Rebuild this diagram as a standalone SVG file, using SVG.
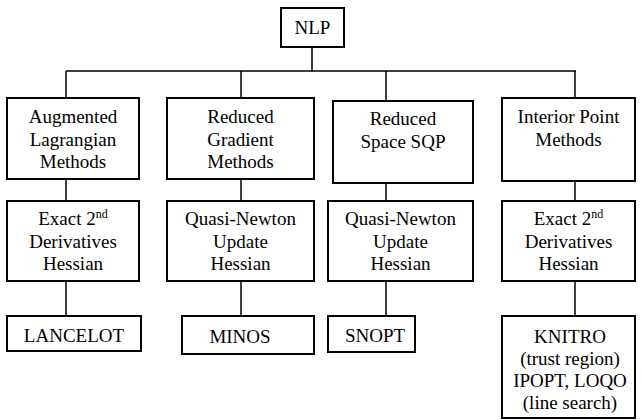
<svg xmlns="http://www.w3.org/2000/svg" width="642" height="420" viewBox="0 0 642 420">
<style>
.box{fill:#fff;stroke:#000;stroke-width:2}
.ln{stroke:#000;stroke-width:1.5;fill:none}
text{font-family:"Liberation Serif","Tinos","Times New Roman","DejaVu Serif",serif;font-size:19px;fill:#000;text-anchor:middle}
.sup{font-size:12px}
</style>
<rect width="642" height="420" fill="#fff"/>
<g id="connectors">
<path class="ln" d="M312 47V72M66 71H576M66 71V98M241 71V98M386 71V101M575 71V98"/>
<path class="ln" d="M66 179V201M241 179V201M386 183V201M575 181V201"/>
<path class="ln" d="M66 281V316M241 281V316M386 281V316M575 281V316"/>
</g>
<g id="nlp"><rect class="box" x="281" y="8" width="63" height="39"/><text x="312.5" y="34">NLP</text></g>
<g id="augmented"><rect class="box" x="7" y="98" width="132" height="81"/><text x="73" y="123">Augmented</text><text x="73" y="145.5">Lagrangian</text><text x="73" y="168">Methods</text></g>
<g id="reducedgradient"><rect class="box" x="167" y="98" width="147" height="81"/><text x="240.5" y="123">Reduced</text><text x="240.5" y="145.5">Gradient</text><text x="240.5" y="168">Methods</text></g>
<g id="reducedsqp"><rect class="box" x="333" y="101" width="140" height="82"/><text x="403" y="125">Reduced</text><text x="403" y="147.5">Space SQP</text></g>
<g id="interior"><rect class="box" x="502" y="98" width="133" height="83"/><text x="568.5" y="123">Interior Point</text><text x="568.5" y="145.5">Methods</text></g>
<g id="exact1"><rect class="box" x="7" y="201" width="132" height="80"/><text x="73" y="225">Exact 2<tspan class="sup" dy="-7">nd</tspan></text><text x="73" y="247.5">Derivatives</text><text x="73" y="270">Hessian</text></g>
<g id="qn1"><rect class="box" x="167" y="201" width="147" height="80"/><text x="240.5" y="225">Quasi-Newton</text><text x="240.5" y="247.5">Update</text><text x="240.5" y="270">Hessian</text></g>
<g id="qn2"><rect class="box" x="328" y="201" width="145" height="80"/><text x="400.5" y="225">Quasi-Newton</text><text x="400.5" y="247.5">Update</text><text x="400.5" y="270">Hessian</text></g>
<g id="exact2"><rect class="box" x="502" y="201" width="133" height="80"/><text x="568.5" y="225">Exact 2<tspan class="sup" dy="-7">nd</tspan></text><text x="568.5" y="247.5">Derivatives</text><text x="568.5" y="270">Hessian</text></g>
<g id="lancelot"><rect class="box" x="7" y="316" width="134" height="35"/><text x="74" y="342">LANCELOT</text></g>
<g id="minos"><rect class="box" x="182" y="316" width="132" height="38"/><text x="240" y="343">MINOS</text></g>
<g id="snopt"><rect class="box" x="328" y="316" width="87" height="36"/><text x="375" y="342">SNOPT</text></g>
<g id="knitro"><rect class="box" x="502" y="316" width="133" height="102"/><text x="570" y="343">KNITRO</text><text x="570" y="365">(trust region)</text><text x="570" y="387">IPOPT, LOQO</text><text x="570" y="409">(line search)</text></g>
</svg>
